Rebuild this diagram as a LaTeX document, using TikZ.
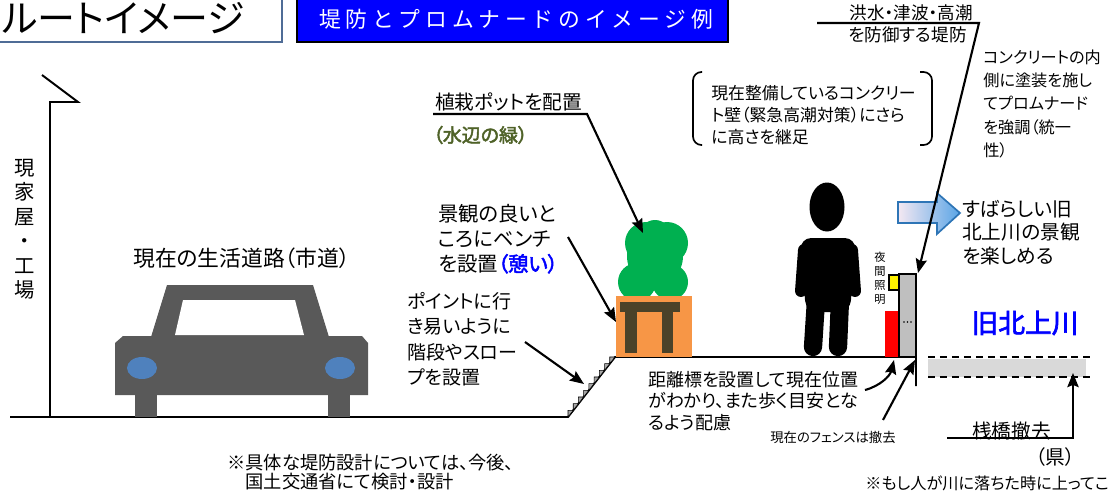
\documentclass[tikz,border=0pt]{standalone}
\usepackage{fontspec}
\setmainfont{Noto Sans CJK JP}[AutoFakeBold=2.5, RawFeature=+palt]
\newfontfamily\jpwide{Noto Sans CJK JP}[LetterSpace=22]
\usetikzlibrary{arrows.meta, positioning}

\definecolor{carGrey}{HTML}{595959}
\definecolor{lampBlue}{HTML}{4F81BD}
\definecolor{treeGreen}{HTML}{00B050}
\definecolor{potOrange}{HTML}{F79646}
\definecolor{benchBrown}{HTML}{4A4229}
\definecolor{leafText}{HTML}{4F6228}
\definecolor{wallGrey}{HTML}{BFBFBF}
\definecolor{riverGrey}{HTML}{D9D9D9}
\definecolor{frameBlue}{HTML}{4F6C96}
\definecolor{arrowEdge}{HTML}{2E75B6}
\definecolor{arrowLight}{HTML}{F4E8F2}
\definecolor{arrowDark}{HTML}{5AA5E6}

\begin{document}
\begin{tikzpicture}[
  x=0.025cm, y=-0.025cm,
  >={Stealth[length=10pt, width=8pt, inset=1.5pt]},
  lbl/.style={inner sep=0pt, align=left, anchor=north west, text=black},
  note/.style={lbl, anchor=west},
  column/.style={inner sep=0pt, align=center, anchor=north},
  pointer/.style={->, line width=1.5pt},
  ground/.style={line width=1.4pt},
  bracket/.style={line width=1.2pt, rounded corners=6pt},
  stair/.style={fill=gray!70, draw=black, line width=0.4pt},
  bankline/.style={line width=1.2pt, dash pattern=on 5pt off 3.5pt}
]
  \useasboundingbox (0,0) rectangle (1114,493);

  %=======================================

  % titres ===============================
  \draw[frameBlue, line width=1.2pt, fill=white] (-10,-10) rectangle (282,42);
  \node[note, font=\fontsize{27}{31}\selectfont] (title) at (2,18) {ルートイメージ};
  \draw[black, line width=2pt, fill=blue] (297,-3) rectangle (728,42);
  \node[text=white, font=\jpwide\fontsize{15.5}{18}\selectfont] (subtitle) at (516,19) {堤防とプロムナードのイメージ例};

  % sol, maison et escalier ==============
  \draw[ground] (42,75) -- (78,102) -- (50,102) -- (50,417);
  \draw[ground] (10,417) -- (568,417) -- (615,357) -- (916,357) -- (916,386);
  \foreach \i in {0,...,8}
    \filldraw[stair] ({568+5.22*\i},{417-6.67*\i}) -- ({568+5.22*\i},{417-6.67*(\i+1)}) -- ({568+5.22*(\i+1)},{417-6.67*(\i+1)}) -- cycle;

  \node[column, font=\fontsize{14.5}{17.4}\selectfont] (houseLbl) at (25,159) {現\\家\\屋\\・\\工\\場};

  % voiture
  \node[note, font=\fontsize{15.5}{18}\selectfont] (roadLbl) at (133,258) {現在の生活道路（市道）};
  \fill[carGrey] (167,285) -- (313,285) -- (329,337) -- (151,337) -- cycle;
  \fill[white] (183,300) -- (295,300) -- (304,335) -- (175,335) -- cycle;
  \fill[carGrey] (115,343) -- (123,336) -- (362,336) -- (368,343) -- (368,395) -- (115,395) -- cycle;
  \fill[carGrey] (135,395) rectangle (157,417);
  \fill[carGrey] (328,395) rectangle (350,417);
  \fill[lampBlue] (142,368) ellipse [x radius=15, y radius=11];
  \fill[lampBlue] (340,368) ellipse [x radius=15, y radius=11];

  % pot, arbre et banc
  \fill[treeGreen] (655,256) ellipse [x radius=28, y radius=30];
  \fill[treeGreen] (646,243) circle [radius=21];
  \fill[treeGreen] (667,243) circle [radius=21];
  \fill[treeGreen] (655,236) circle [radius=16];
  \fill[treeGreen] (637,282) circle [radius=19];
  \fill[treeGreen] (670,282) circle [radius=18];
  \fill[potOrange] (616,296) rectangle (692,357);
  \fill[benchBrown] (620,302) rectangle (680,312);
  \fill[benchBrown] (625,312) rectangle (637,353);
  \fill[benchBrown] (662,312) rectangle (673,353);

  % personne
  \fill[black] (827,207) ellipse [x radius=17.5, y radius=24.5];
  \fill[black, rounded corners=8pt] (800,238) -- (856,238) -- (850,312) -- (806,312) -- cycle;
  \draw[line width=8.5pt, line cap=round] (804,250) -- (801,291);
  \draw[line width=8.5pt, line cap=round] (852,250) -- (855,291);
  \draw[line width=13pt, line cap=round] (816,300) -- (813,347);
  \draw[line width=13pt, line cap=round] (840,300) -- (838,347);

  % mur, éclairage et borne
  \fill[red] (885,311) rectangle (899,357);
  \draw[fill=yellow, line width=1pt] (889,275) rectangle (899,290);
  \draw[fill=wallGrey, line width=1.2pt] (899,274) rectangle (916,357);
  \foreach \d in {904,907.5,911}
    \fill (\d,322) circle [radius=0.9];
  \node[column, font=\fontsize{8}{10}\selectfont] (lampLbl) at (880,252) {夜\\間\\照\\明};

  % rivière
  \fill[riverGrey] (928,359) rectangle (1086,377);
  \draw[bankline] (928,357) -- (1092,357);
  \draw[bankline] (928,377) -- (1092,377);
  \node[text=blue, font=\bfseries\fontsize{19}{22}\selectfont] (riverLbl) at (1025,323) {旧北上川};

  % flèche vers la vue
  \draw[arrowEdge, line width=1.2pt, left color=arrowLight, right color=arrowDark]
    (898,202) -- (937,202) -- (937,193) -- (960,213) -- (937,234) -- (937,223) -- (898,223) -- cycle;
  \node[lbl, font=\fontsize{14}{16.7}\selectfont] (viewLbl) at (962,200) {すばらしい旧\\北上川の景観\\を楽しめる};

  % textes et flèches ====================
  \node[note, font=\fontsize{12.5}{15}\selectfont, anchor=east] (floodLbl) at (973,13) {洪水・津波・高潮};
  \node[note, font=\fontsize{12.5}{15}\selectfont, anchor=east] (floodLbl2) at (967,35) {を防御する堤防};
  \node[lbl, font=\fontsize{11.5}{16.4}\selectfont] (paintLbl) at (983,50) {コンクリートの内\\側に塗装を施し\\てプロムナード\\を強調（統一\\性）};

  \node[lbl, font=\fontsize{12}{15.7}\selectfont] (raiseLbl) at (711,85) {現在整備しているコンクリー\\ト壁（緊急高潮対策）にさら\\に高さを継足};
  \draw[bracket] (702,72) -| (693,145) -- (702,145);
  \draw[bracket] (920,72) -| (932,145) -- (920,145);

  \node[note, font=\fontsize{14}{16}\selectfont] (plantLbl) at (435,102) {植栽ポットを配置};
  \node[note, font=\bfseries\fontsize{13.5}{16}\selectfont, text=leafText] (plantNote) at (433,135) {（水辺の緑）};

  \node[lbl, font=\fontsize{14.5}{17.8}\selectfont] (benchLbl) at (438,204) {景観の良いと\\ころにベンチ\\を設置{\bfseries\color{blue}（憩い）}};
  \node[lbl, font=\fontsize{13.5}{18.1}\selectfont] (stairLbl) at (407,292) {ポイントに行\\き易いように\\階段やスロー\\プを設置};

  \node[lbl, font=\fontsize{12.8}{15.3}\selectfont] (markerLbl) at (648,371) {距離標を設置して現在位置\\がわかり、また歩く目安とな\\るよう配慮};
  \node[note, font=\fontsize{9.5}{11}\selectfont] (fenceLbl) at (770,437) {現在のフェンスは撤去};

  \node[note, font=\fontsize{14}{16}\selectfont] (pierLbl) at (972,431) {桟橋撤去};
  \node[font=\fontsize{14}{16}\selectfont, inner sep=0pt] (prefLbl) at (1055,457) {（県）};
  \node[note, font=\fontsize{11.5}{13}\selectfont] (rescueLbl) at (865,483) {※もし人が川に落ちた時に上ってこ};
  \node[lbl, font=\fontsize{13}{13.5}\selectfont] (designLbl) at (227,454) {※具体な堤防設計については、今後、\\\hspace{1em}国土交通省にて検討・設計};

  % extrémités des flèches
  \coordinate (floodLine) at (817,23);
  \coordinate (floodBend) at (979,23);
  \coordinate (wallTop) at (918,273);
  \coordinate (plantLine) at (433,114);
  \coordinate (plantBend) at (587,114);
  \coordinate (treeTip) at (643,233);
  \coordinate (benchFrom) at (568,237);
  \coordinate (benchTip) at (616,322);
  \coordinate (stairFrom) at (525,342);
  \coordinate (stairTip) at (584,384);
  \coordinate (markerFrom) at (865,390);
  \coordinate (markerTip) at (894,360);
  \coordinate (fenceFrom) at (883,420);
  \coordinate (fenceTip) at (915,360);
  \coordinate (pierLine) at (947,438);
  \coordinate (pierBend) at (1073,438);
  \coordinate (pierTip) at (1073,373);

  \draw[pointer] (floodLine) -- (floodBend) -- (wallTop);
  \draw[pointer] (plantLine) -- (plantBend) -- (treeTip);
  \draw[pointer] (benchFrom) -- (benchTip);
  \draw[pointer] (stairFrom) -- (stairTip);
  \draw[pointer] (markerFrom) .. controls (880,386) and (890,376) .. (markerTip);
  \draw[pointer] (fenceFrom) -- (fenceTip);
  \draw[pointer] (pierLine) -- (pierBend) -- (pierTip);

  %=======================================

\end{tikzpicture}
\end{document}
